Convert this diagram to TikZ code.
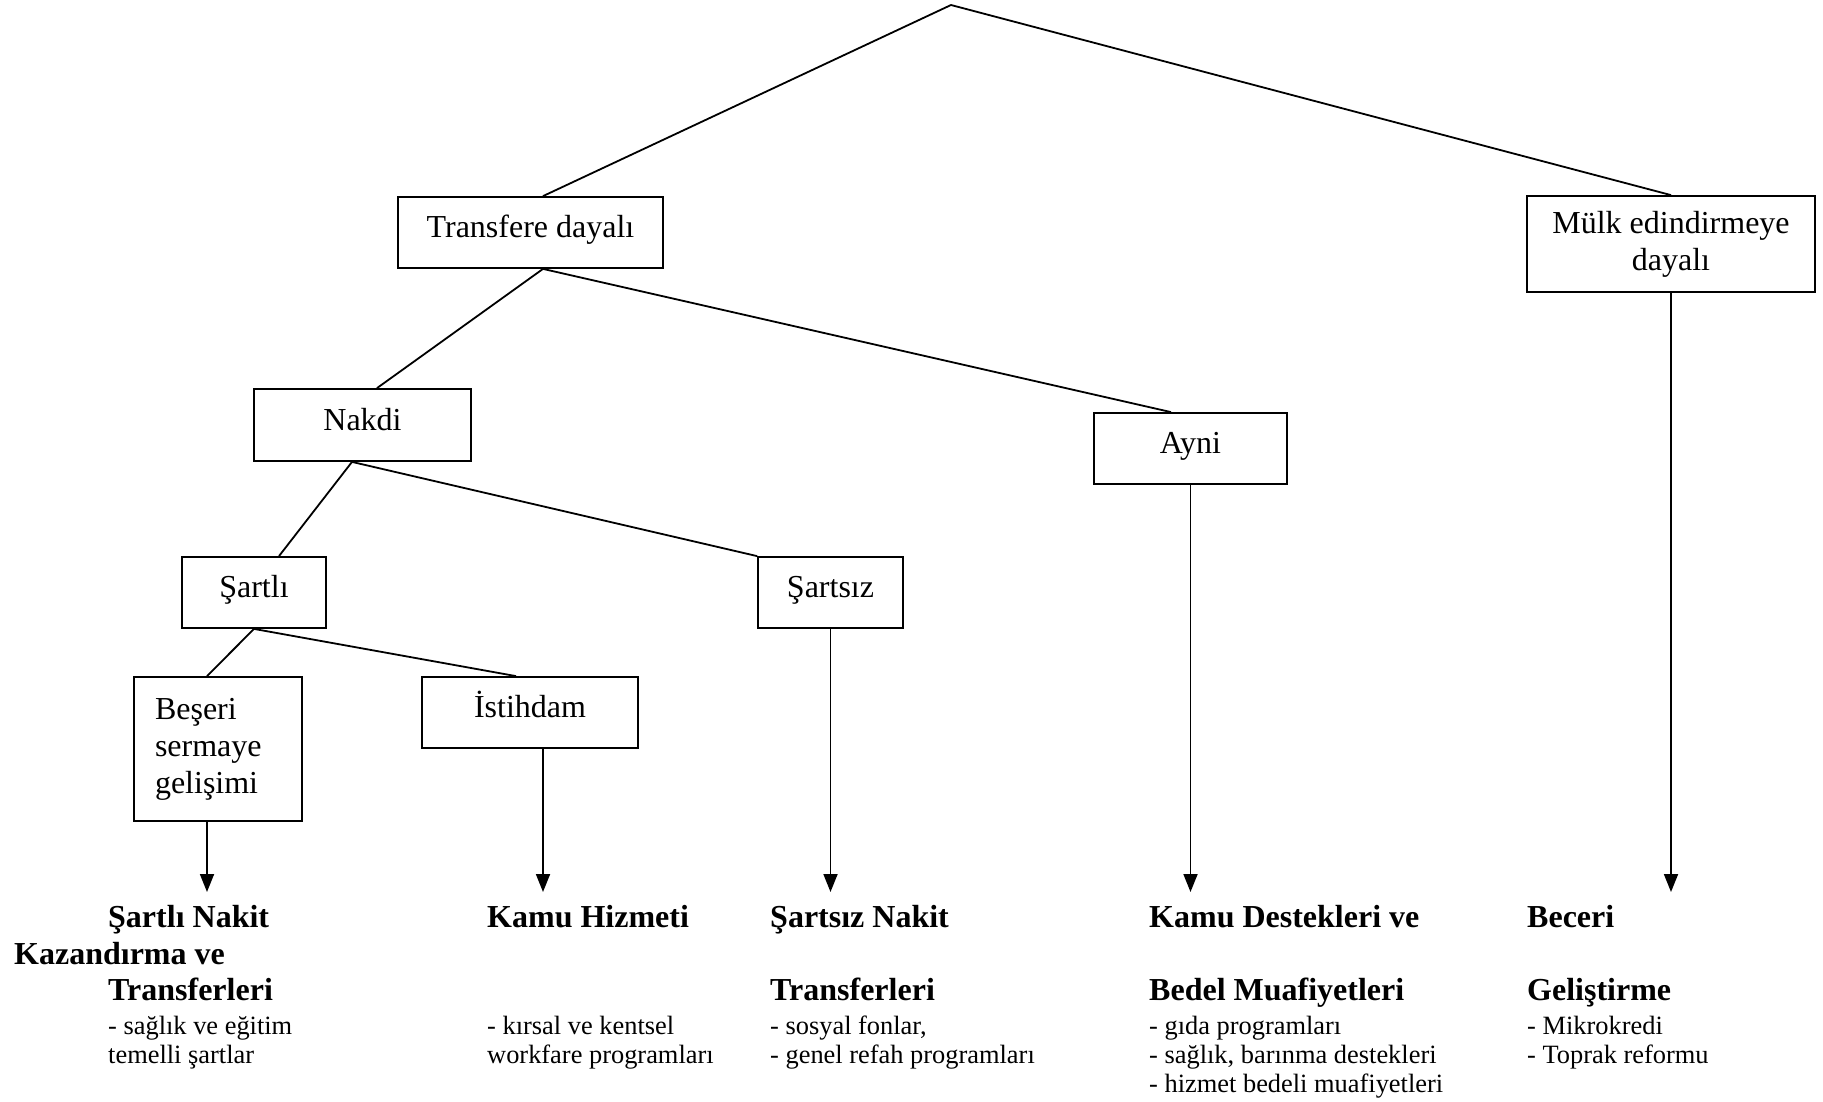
\documentclass[tikz,border=0pt]{standalone}
\usepackage{fontspec}
\setmainfont{Liberation Serif}
\usetikzlibrary{arrows.meta, positioning}

\begin{document}
\begin{tikzpicture}[x=1pt, y=-1pt,
  box/.style={draw, line width=1.8pt, inner sep=0pt, font=\fontsize{32}{37}\selectfont},
  onebox/.style={box, text height=22pt, text depth=12pt},
  head/.style={anchor=base west, inner sep=0pt, font=\fontsize{32}{37}\selectfont\bfseries},
  item/.style={anchor=base west, inner sep=0pt, font=\fontsize{26.4}{29}\selectfont},
  link/.style={line width=1.8pt},
  down/.style={line width=1.8pt, -{Triangle[length=18pt,width=14pt]}}]
\useasboundingbox (0,0) rectangle (1823,1101);
\coordinate (apex) at (951,5);
\coordinate (tipline) at (0,892);
\node at (530.5,232.5) [onebox, minimum width=265pt, minimum height=71pt] (trans) {Transfere dayalı};
\node at (1671,244) [box, minimum width=288pt, minimum height=96pt, align=center] (mulk) {Mülk edindirmeye\\dayalı};
\node at (362.5,425) [onebox, minimum width=217pt, minimum height=72pt] (nakdi) {Nakdi};
\node at (1190.5,448.5) [onebox, minimum width=193pt, minimum height=71pt] (ayni) {Ayni};
\node at (254,592.5) [onebox, minimum width=144pt, minimum height=71pt] (sartli) {Şartlı};
\node at (830.5,592.5) [onebox, minimum width=145pt, minimum height=71pt] (sartsiz) {Şartsız};
\node at (218,749) [box, text width=126pt, inner xsep=21pt, minimum height=144pt, align=left] (beseri) {Beşeri\\sermaye\\gelişimi};
\node at (530,712.5) [onebox, minimum width=216pt, minimum height=71pt] (istihdam) {İstihdam};
\draw [link] (apex) -- ([xshift=12.5pt]trans.north);
\draw [link] (apex) -- (mulk.north);
\draw [link] ([xshift=12.5pt]trans.south) -- ([xshift=14.5pt]nakdi.north);
\draw [link] ([xshift=12.5pt]trans.south) -- ([xshift=-19.5pt]ayni.north);
\draw [link] ([xshift=-10.5pt]nakdi.south) -- ([xshift=25pt]sartli.north);
\draw [link] ([xshift=-10.5pt]nakdi.south) -- (sartsiz.north west);
\draw [link] (sartli.south) -- ([xshift=-11pt]beseri.north);
\draw [link] (sartli.south) -- ([xshift=-14pt]istihdam.north);
\draw [down] ([xshift=-11pt]beseri.south) -- ([xshift=-11pt]beseri.south |- tipline);
\draw [down] ([xshift=13pt]istihdam.south) -- ([xshift=13pt]istihdam.south |- tipline);
\draw [down] (sartsiz.south) -- (sartsiz.south |- tipline);
\draw [down] (ayni.south) -- (ayni.south |- tipline);
\draw [down] (mulk.south) -- (mulk.south |- tipline);
\node at (108,927) [head] (h1a) {Şartlı Nakit};
\node at (14,964) [head] (h1b) {Kazandırma ve};
\node at (108,1000) [head] (h1c) {Transferleri};
\node at (108,1034) [item] (i1a) {- sağlık ve eğitim};
\node at (108,1063) [item] (i1b) {temelli şartlar};
\node at (487,927) [head] (h2a) {Kamu Hizmeti};
\node at (487,1034) [item] (i2a) {- kırsal ve kentsel};
\node at (487,1063) [item] (i2b) {workfare programları};
\node at (770,927) [head] (h3a) {Şartsız Nakit};
\node at (770,1000) [head] (h3b) {Transferleri};
\node at (770,1034) [item] (i3a) {- sosyal fonlar,};
\node at (770,1063) [item] (i3b) {- genel refah programları};
\node at (1149,927) [head] (h4a) {Kamu Destekleri ve};
\node at (1149,1000) [head] (h4b) {Bedel Muafiyetleri};
\node at (1149,1034) [item] (i4a) {- gıda programları};
\node at (1149,1063) [item] (i4b) {- sağlık, barınma destekleri};
\node at (1149,1092) [item] (i4c) {- hizmet bedeli muafiyetleri};
\node at (1527,927) [head] (h5a) {Beceri};
\node at (1527,1000) [head] (h5b) {Geliştirme};
\node at (1527,1034) [item] (i5a) {- Mikrokredi};
\node at (1527,1063) [item] (i5b) {- Toprak reformu};
\end{tikzpicture}
\end{document}
